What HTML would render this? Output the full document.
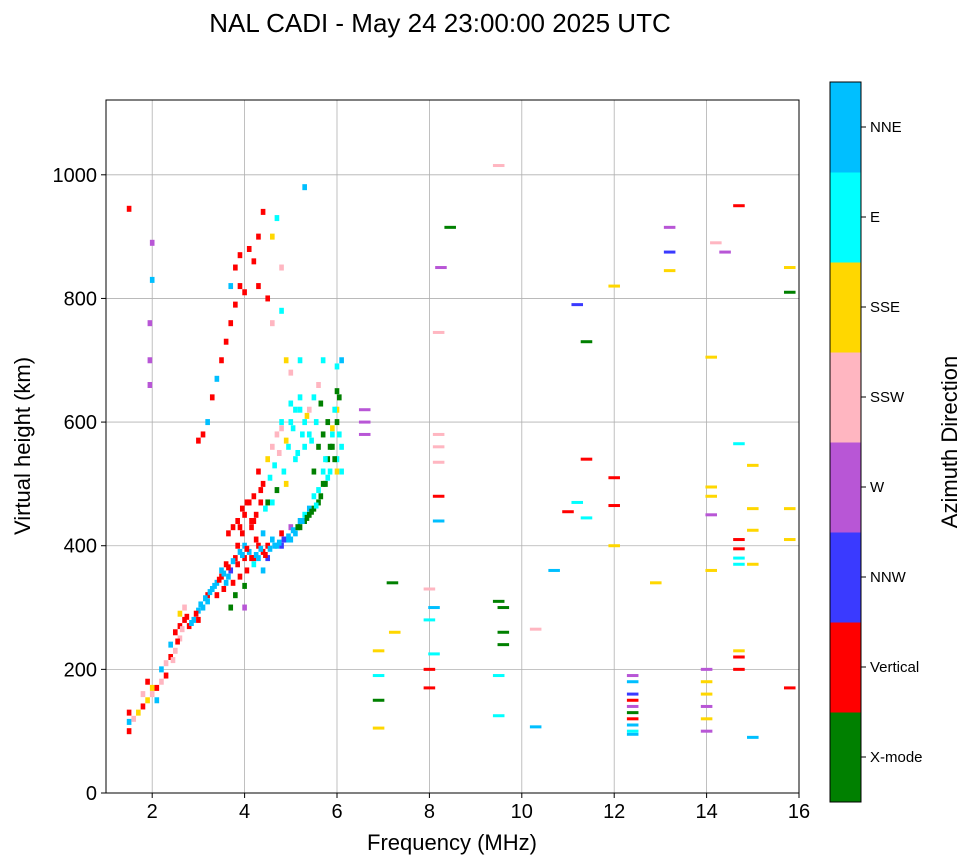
<!DOCTYPE html>
<html><head><meta charset="utf-8">
<style>
body{margin:0;background:#fff;}
svg{display:block;font-family:"Liberation Sans",sans-serif;}
</style></head>
<body>
<svg id="chart" width="972" height="865" viewBox="0 0 972 865" xmlns="http://www.w3.org/2000/svg">
<text x="440" y="32" font-size="26" text-anchor="middle">NAL CADI - May 24 23:00:00 2025 UTC</text>
<g id="grid"></g>
<g id="marks"></g>
<rect x="106" y="100" width="693" height="693" fill="none" stroke="#000" stroke-width="1"/>
<g id="axes"></g>
<text x="452" y="850" font-size="22" text-anchor="middle">Frequency (MHz)</text>
<text transform="translate(30,446) rotate(-90)" font-size="22" text-anchor="middle">Virtual height (km)</text>
<g id="cbar"></g>
<text transform="translate(957,442) rotate(-90)" font-size="22" text-anchor="middle">Azimuth Direction</text>
</svg>
<script>
const categories = ["X-mode","Vertical","NNW","W","SSW","SSE","E","NNE"];
const catColors = ["#008000","#ff0000","#3a3aff","#b856d6","#ffb6c1","#ffd700","#00ffff","#00bfff"];
const xTicks = [2,4,6,8,10,12,14,16];
const yTicks = [0,200,400,600,800,1000];
const freqs = [1.5,1.5,1.5,1.6,1.7,1.8,1.8,1.9,1.9,2.0,2.0,2.1,2.1,2.2,2.2,2.3,2.3,2.4,2.4,2.5,2.5,2.6,2.6,2.6,2.7,2.7,2.8,2.9,3.0,3.0,3.1,3.2,3.2,3.3,3.4,3.4,3.5,3.5,3.6,3.6,3.7,3.7,3.8,3.8,3.9,3.9,4.0,4.0,4.0,4.0,4.1,4.2,4.2,4.3,4.3,4.4,4.4,4.5,4.5,4.6,4.7,4.8,4.8,4.9,5.0,5.0,5.1,5.2,5.2,5.3,5.3,5.4,5.4,5.5,5.5,5.6,5.6,5.7,5.7,5.8,5.8,5.9,5.9,6.0,6.0,6.0,6.0,6.1,6.1,6.0,6.1,5.9,
3.9,4.0,4.1,4.2,4.3,4.4,4.5,4.6,4.7,4.8,4.9,5.0,5.1,5.2,5.3,5.4,5.5,5.6,5.2,5.0,4.9,5.7,5.1,5.3,4.7,4.5,4.9,5.5,5.7,
3.0,3.1,3.2,3.3,3.4,3.5,3.6,3.7,3.7,3.8,3.8,3.9,3.9,4.0,4.1,4.2,4.3,4.3,4.4,4.5,4.6,4.6,4.8,4.7,5.3,4.8,
2.45,2.55,2.65,2.75,2.85,2.95,3.05,3.15,3.25,3.35,3.45,3.55,3.65,3.75,3.85,3.95,4.05,4.15,4.25,4.35,4.45,4.55,4.65,4.75,4.85,4.95,5.05,5.15,5.25,5.35,5.45,5.55,5.65,5.75,5.85,5.95,6.05,3.65,3.75,3.85,3.95,4.05,4.15,4.25,4.35,4.45,4.55,4.65,4.75,4.85,4.95,5.05,5.15,5.25,5.35,5.45,5.55,5.65,5.75,5.85,5.95,6.05,4.2,4.4,4.6,4.8,5.0,5.2,5.4,5.6,5.8,6.0,3.55,3.65,3.75,3.85,3.95,4.05,4.15,4.25,4.35,
1.5,2.0,1.95,1.95,1.95,2.0,6.6,6.6,6.6,7.2,7.25,6.9,6.9,6.9,6.9,8.0,8.0,8.0,8.0,8.1,8.1,8.2,8.2,8.2,8.2,8.2,8.25,8.2,8.45,9.5,9.5,9.5,9.5,9.6,9.6,9.6,10.3,10.3,10.7,11.0,11.2,11.2,11.4,11.4,11.4,12.0,12.0,12.0,12.0,12.4,12.4,12.4,12.4,12.4,12.4,12.4,12.4,12.4,12.4,12.9,13.2,13.2,13.2,14.0,14.0,14.0,14.0,14.0,14.0,14.1,14.1,14.1,14.1,14.1,14.2,14.4,14.7,14.7,14.7,14.7,14.7,14.7,14.7,14.7,14.7,15.0,15.0,15.0,15.0,15.0,15.8,15.8,15.8,15.8,15.8];
const heights = [100,115,130,120,130,140,160,150,180,160,170,150,170,180,200,190,210,220,240,230,260,270,250,290,280,300,270,280,280,295,300,310,320,330,340,320,350,360,340,370,360,300,380,320,390,350,380,400,335,300,390,380,370,400,380,360,390,380,400,410,400,400,420,410,410,430,420,430,440,440,450,450,460,460,480,490,470,500,520,540,510,560,580,600,620,650,540,560,520,690,700,590,
430,450,470,480,520,500,540,560,580,600,570,600,620,640,600,620,640,660,700,680,700,700,540,560,490,470,500,520,580,
570,580,600,640,670,700,730,760,820,790,850,820,870,810,880,860,820,900,940,800,760,900,780,930,980,850,
215,245,265,285,275,290,305,315,325,335,345,355,365,375,370,385,395,380,385,395,385,395,400,405,410,415,425,430,440,445,455,465,480,500,520,540,580,420,430,440,460,470,430,450,490,460,510,530,550,520,560,590,550,580,610,570,600,630,540,560,620,640,440,420,470,590,630,620,580,560,600,520,330,350,340,400,420,360,440,410,470,
945,890,760,700,660,830,620,580,600,340,260,230,190,150,105,200,170,280,330,300,225,580,560,535,480,440,850,745,915,1015,310,190,125,300,260,240,265,107,360,455,470,790,730,540,445,510,465,400,820,190,180,150,130,110,95,160,140,120,100,340,915,875,845,200,180,160,140,120,100,705,495,480,450,360,890,875,950,565,410,395,380,370,230,220,200,530,460,425,370,90,850,810,460,410,170];
const cats = [1,7,1,4,5,1,4,5,1,4,5,7,1,4,7,1,4,1,7,4,1,1,4,5,1,4,1,7,1,7,7,7,1,7,7,1,1,7,7,1,2,0,1,0,7,1,1,7,0,3,7,1,6,1,7,7,1,2,1,7,7,2,1,7,7,3,7,0,7,0,6,0,7,0,6,6,0,0,6,0,6,0,6,0,5,0,6,6,6,6,7,5,
1,1,1,1,1,1,5,4,4,6,5,6,6,6,6,4,6,4,6,4,5,6,6,6,0,0,5,0,0,
1,1,7,1,7,1,1,1,7,1,1,1,1,1,1,1,1,1,1,1,4,5,6,6,7,4,
4,1,4,1,7,1,7,7,7,7,1,7,1,7,1,7,1,1,7,7,1,7,7,7,2,7,7,0,7,0,0,6,0,0,6,0,6,1,1,1,1,1,1,1,1,6,6,6,4,6,6,6,6,6,5,6,6,0,6,0,6,0,1,7,6,4,6,6,6,0,0,5,1,7,1,1,1,1,1,1,1,
1,3,3,3,3,7,3,3,3,0,5,5,6,0,5,1,1,6,4,7,6,4,4,4,1,7,3,4,0,4,0,6,6,0,0,0,4,7,7,1,6,2,0,1,6,1,1,5,5,3,7,1,0,7,7,2,3,1,6,5,3,2,5,3,5,5,3,5,3,5,5,5,3,5,4,3,1,6,1,1,6,6,5,1,1,5,5,5,5,7,5,0,5,5,1];

const X0=106, X1=799, Y0=793, Y1=100;
const xScale = f => X0 + (f-1)/(16-1)*(X1-X0);
const yScale = h => Y0 - h/1121*(Y0-Y1);
const NS="http://www.w3.org/2000/svg";
function mk(tag, attrs, parent){const e=document.createElementNS(NS,tag);for(const k in attrs)e.setAttribute(k,attrs[k]);parent.appendChild(e);return e;}

const grid=document.getElementById('grid'), axes=document.getElementById('axes'), marks=document.getElementById('marks'), cbar=document.getElementById('cbar');
xTicks.forEach(t=>{
  const x=xScale(t);
  const l=mk('line',{x1:x,x2:x,y1:Y1,y2:Y0,stroke:'#b0b0b0','stroke-width':0.8},grid);
  
  
  const tk=mk('line',{x1:x,x2:x,y1:Y0,y2:Y0+5,stroke:'#000'},axes);
  
  
  const tx=mk('text',{x:x,y:Y0+25,'font-size':20,'text-anchor':'middle'},axes);
  tx.textContent=t;
  
  
});
yTicks.forEach(t=>{
  const y=yScale(t);
  const l=mk('line',{x1:X0,x2:X1,y1:y,y2:y,stroke:'#b0b0b0','stroke-width':0.8},grid);
  
  
  const tk=mk('line',{x1:X0-5,x2:X0,y1:y,y2:y,stroke:'#000'},axes);
  
  
  const tx=mk('text',{x:X0-9,y:y+7,'font-size':20,'text-anchor':'end'},axes);
  tx.textContent=t;
  
  
});
const n=Math.min(freqs.length,heights.length,cats.length);
for(let i=0;i<n;i++){
  const iso = freqs[i]>6.3;
  const w = iso ? 0.25 : 0.1;
  const hpx = iso ? 3 : 6;
  const x=xScale(freqs[i]-w/2), x2=xScale(freqs[i]+w/2);
  const r=mk('rect',{x:x,y:yScale(heights[i])-hpx/2,width:x2-x,height:hpx,fill:catColors[cats[i]]},marks);
  
  
}
const CX=830, CW=31, CT=82, CB=802, seg=(CB-CT)/categories.length;
categories.forEach((c,i)=>{
  const y=CB-(i+1)*seg;
  const r=mk('rect',{x:CX,y:y,width:CW,height:seg+0.5,fill:catColors[i]},cbar);
  
  
  const tk=mk('line',{x1:CX+CW,x2:CX+CW+5,y1:y+seg/2,y2:y+seg/2,stroke:'#000'},cbar);
  
  
  const tx=mk('text',{x:CX+CW+9,y:y+seg/2+5,'font-size':15},cbar);
  tx.textContent=c;
  
  
});
const fr=mk('rect',{x:CX,y:CT,width:CW,height:CB-CT,fill:'none',stroke:'#000'},cbar);


</script>
</body></html>
